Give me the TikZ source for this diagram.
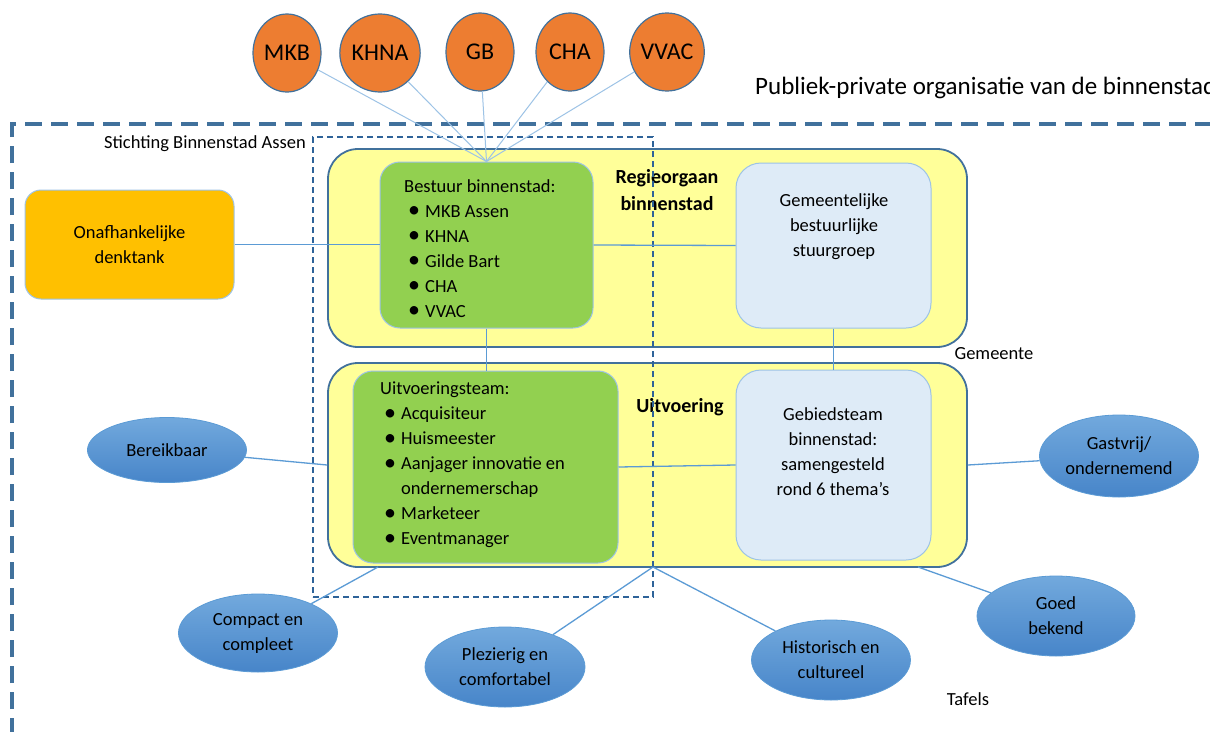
\documentclass[tikz,border=0pt]{standalone}
\usepackage{fontspec}
\setmainfont{Carlito}
\usetikzlibrary{shapes.geometric}
\definecolor{dkblue}{HTML}{41719C}
\definecolor{dashblue}{HTML}{2E6399}
\definecolor{ltblue}{HTML}{9DC3E6}
\definecolor{lineblue}{HTML}{5B9BD5}
\definecolor{paleblue}{HTML}{DEEBF7}
\definecolor{yellowfill}{HTML}{FFFF99}
\definecolor{greenfill}{HTML}{92D050}
\definecolor{orangefill}{HTML}{ED7D31}
\definecolor{goldfill}{HTML}{FFC000}
\definecolor{elltop}{HTML}{72A9DD}
\definecolor{ellbot}{HTML}{4785C9}
\newcommand{\nf}{\fontsize{18.5}{25}\selectfont}
\newcommand{\bul}{\hspace*{4pt}\makebox[17pt][l]{\raisebox{-0.5pt}{\fontsize{24}{25}\selectfont\textbullet}}}
\begin{document}
\begin{tikzpicture}[x=1pt,y=-1pt,
  circ/.style={ellipse, draw=dkblue, line width=1.2pt, fill=orangefill, minimum width=68pt, minimum height=78pt, inner sep=0pt, font=\fontsize{24}{28}\selectfont},
  tafel/.style={ellipse, draw=lineblue, line width=0.8pt, top color=elltop, bottom color=ellbot, inner sep=0pt, align=center, font=\nf},
  ybox/.style={rectangle, rounded corners=30pt, draw=dkblue, line width=1.8pt, fill=yellowfill, minimum width=639pt, inner sep=0pt},
  gbox/.style={rectangle, rounded corners=20pt, draw=ltblue, line width=1pt, fill=greenfill, inner sep=0pt},
  bbox/.style={rectangle, rounded corners=25pt, draw=ltblue, line width=1pt, fill=paleblue, minimum width=195pt, inner sep=0pt},
  obox/.style={rectangle, rounded corners=16pt, draw=ltblue, line width=1pt, fill=goldfill, inner sep=0pt, align=center, font=\nf},
  txt/.style={inner sep=0pt, font=\nf},
  boldtxt/.style={inner sep=0pt, align=center, font=\fontsize{20}{27}\selectfont\bfseries},
  conn/.style={draw=lineblue, line width=1.3pt},
  toplink/.style={draw=ltblue, line width=1pt},
  outerdash/.style={draw=dkblue, line width=4pt, dash pattern=on 17pt off 9pt},
  innerdash/.style={draw=dashblue, line width=1.2pt, dash pattern=on 6pt off 4pt}
]
\useasboundingbox (0,0) rectangle (1210,731);
\fill[white] (0,0) rectangle (1210,731);

% outer organisation border
\coordinate (oc) at (12,124);
\coordinate (obot) at (12,735);
\coordinate (oright) at (1215,124);
\draw[outerdash] (obot) -- (oc) -- (oright);

\node[anchor=west, inner sep=0pt, font=\fontsize{25}{30}\selectfont] (title) at (755,88) {Publiek-private organisatie van de binnenstad};

% top circles
\node[circ] (mkb) at (287,53) {MKB};
\node[circ] (khna) at (380,53) {KHNA};
\node[circ] (gb) at (480,52) {GB};
\node[circ] (cha) at (570,52) {CHA};
\node[circ] (vvac) at (667,52) {VVAC};

% yellow containers
\node[ybox, minimum height=198pt] (uy) at (647.5,248) {};
\node[ybox, minimum height=204pt] (ly) at (647.5,465) {};

% inner boxes
\node[gbox, minimum width=213pt, minimum height=166pt] (gu) at (486.5,245) {};
\node[gbox, minimum width=265pt, minimum height=192pt] (gl) at (485.5,467) {};
\node[bbox, minimum height=165pt] (bu) at (833.5,245.5) {};
\node[bbox, minimum height=190pt] (bl) at (833.5,465) {};
\node[obox, minimum width=209pt, minimum height=109pt] (ond) at (129.5,244.5) {Onafhankelijke\\denktank};

% texts in boxes
\node[txt, anchor=west, align=left] (gutxt) at (404,248.5) {Bestuur binnenstad:\\\bul MKB Assen\\\bul KHNA\\\bul Gilde Bart\\\bul CHA\\\bul VVAC};
\node[txt, anchor=west, align=left] (gltxt) at (380,465) {Uitvoeringsteam:\\\bul Acquisiteur\\\bul Huismeester\\\bul Aanjager innovatie en\\\hspace*{21pt}ondernemerschap\\\bul Marketeer\\\bul Eventmanager};
\node[txt, align=center] (butxt) at (834,227) {Gemeentelijke\\bestuurlijke\\stuurgroep};
\node[txt, align=center] (bltxt) at (833,452) {Gebiedsteam\\binnenstad:\\samengesteld\\rond 6 thema’s};
\node[boldtxt] (regie) at (667,190) {Regieorgaan\\binnenstad};
\node[boldtxt] (uitv) at (680,407) {Uitvoering};

% Stichting dashed frame
\node[innerdash, rectangle, minimum width=340pt, minimum height=460pt, inner sep=0pt] (stb) at (483,367) {};
\node[txt, anchor=east] (stbl) at (306,144) {Stichting Binnenstad Assen};

\node[txt] (gem) at (994,354) {Gemeente};
\node[txt] (taf) at (968,699) {Tafels};

% thema ellipses
\node[tafel, minimum width=159pt, minimum height=65pt] (ber) at (167,450) {Bereikbaar};
\node[tafel, minimum width=159pt, minimum height=82pt] (gast) at (1119,456) {Gastvrij/\\ondernemend};
\node[tafel, minimum width=159pt, minimum height=78pt] (comp) at (258,633) {Compact en\\compleet};
\node[tafel, minimum width=160pt, minimum height=80pt] (plez) at (505,667) {Plezierig en\\comfortabel};
\node[tafel, minimum width=159pt, minimum height=80pt] (hist) at (831,660) {Historisch en\\cultureel};
\node[tafel, minimum width=158pt, minimum height=80pt] (goed) at (1056,616) {Goed\\bekend};

% connectors from circles
\foreach \c in {mkb,khna,gb,cha,vvac}
  \draw[toplink] (\c) -- (gu.north);

% connectors
\draw[conn] (ond.east) -- (gu.west |- ond.east);
\draw[conn] (gu.east) -- (bu.west);
\draw[conn] (gu.south) -- (gu.south |- gl.north);
\draw[conn] (bu.south) -- (bl.north);
\draw[conn] (gl.east) -- (bl.west);
\draw[conn] (ber) -- (ly.west);
\draw[conn] (gast) -- (ly.east);
\coordinate (cc) at (378,567);
\coordinate (cm) at (653,567);
\coordinate (cg) at (918,567);
\draw[conn] (comp) -- (cc);
\draw[conn] (plez) -- (cm);
\draw[conn] (hist) -- (cm);
\draw[conn] (goed) -- (cg);
\end{tikzpicture}
\end{document}
